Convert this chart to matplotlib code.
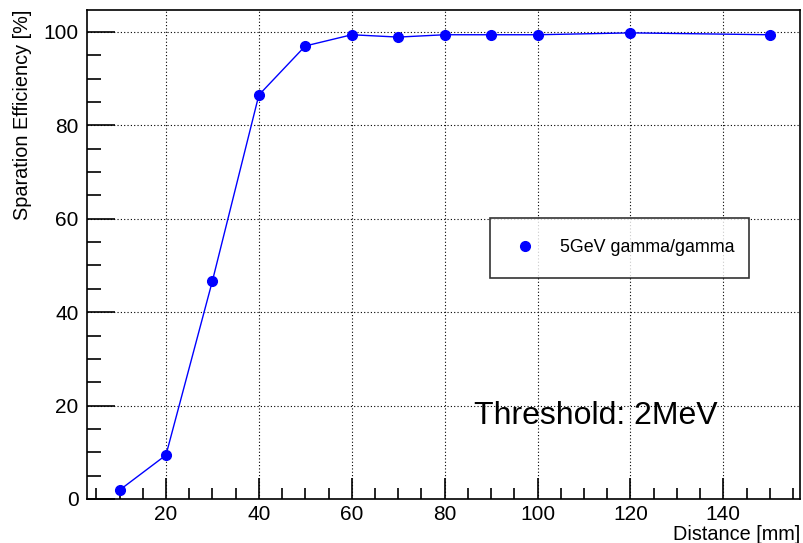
import matplotlib
matplotlib.use("Agg")
import matplotlib.pyplot as plt
from matplotlib.ticker import MultipleLocator

plt.rcParams['font.family'] = ['Liberation Sans', 'DejaVu Sans']

distance = [10, 20, 30, 40, 50, 60, 70, 80, 90, 100, 120, 150]
efficiency = [1.9, 9.4, 46.7, 86.5, 97.0, 99.4, 98.9, 99.4, 99.4, 99.4, 99.8, 99.4]
series_label = "5GeV gamma/gamma"

W, H = 804, 543
fig = plt.figure(figsize=(W / 100, H / 100), dpi=100)
ax = fig.add_axes([87 / W, 1 - 499 / H, (800 - 87) / W, (499 - 10) / H])

ax.plot(distance, efficiency, color='#0000ff', lw=1.0, marker='o', ms=7,
        mfc='#0000ff', mec='#0000ff', label=series_label, zorder=3)

ax.set_xlim(3, 156.5)
ax.set_ylim(0, 104.7)

ax.xaxis.set_major_locator(MultipleLocator(20))
ax.xaxis.set_minor_locator(MultipleLocator(5))
ax.yaxis.set_major_locator(MultipleLocator(20))
ax.yaxis.set_minor_locator(MultipleLocator(5))

ax.tick_params(axis='both', which='both', direction='in', top=False, right=False,
               labelsize=15, color='black', width=1.2)
ax.tick_params(axis='x', which='major', length=15, pad=4)
ax.tick_params(axis='x', which='minor', length=8)
ax.tick_params(axis='y', which='major', length=20, pad=6)
ax.tick_params(axis='y', which='minor', length=10)

ax.grid(True, which='major', color='black', linestyle=(0, (1, 2)), lw=0.8)

for s in ax.spines.values():
    s.set_linewidth(1.2)

ax.set_xlabel("Distance [mm]", fontsize=14.3, loc='right')
ax.xaxis.set_label_coords(1.0, -0.054)
ax.set_ylabel("Sparation Efficiency [%]", fontsize=14.3, loc='top')
ax.yaxis.set_label_coords(-0.077, 1.0)

# legend box spanning x 490-749, y 220-276 (pixels from top)
lx0, lx1, ly0, ly1 = 490, 749, 220, 276
leg = fig.legend(loc='center',
                 bbox_to_anchor=(lx0 / W, 1 - ly1 / H, (lx1 - lx0) / W, (ly1 - ly0) / H),
                 mode='expand', fontsize=12.9, frameon=True, fancybox=False,
                 borderpad=1.2, handlelength=1.5, handletextpad=1.2, borderaxespad=0)
leg.get_frame().set_edgecolor('black')
leg.get_frame().set_linewidth(1.2)
for h in leg.legend_handles:
    h.set_linestyle('None')

fig.text(474 / W, 1 - 424 / H, "Threshold: 2MeV", fontsize=23, va='baseline')

fig.savefig("out.png", dpi=100)
